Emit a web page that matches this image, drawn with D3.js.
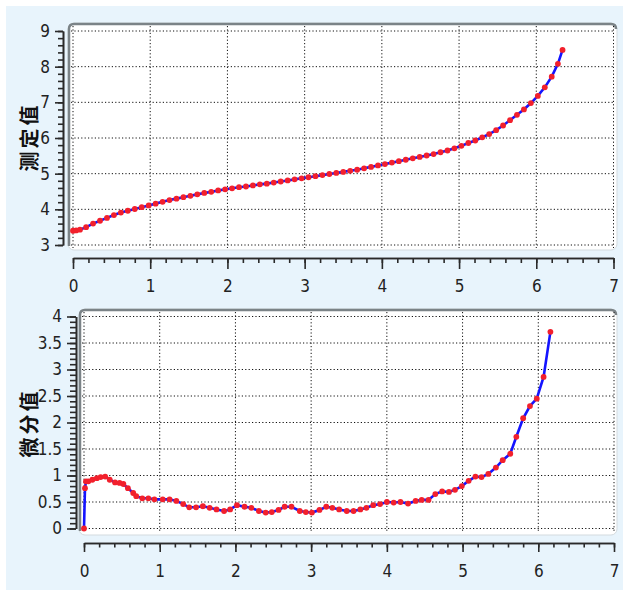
<!DOCTYPE html>
<html><head><meta charset="utf-8">
<script src="https://cdn.jsdelivr.net/npm/d3@7"></script>
<style>
html,body{margin:0;padding:0;background:#fff;}
svg{display:block;}
.tick text{font-family:"Liberation Sans Narrow","DejaVu Sans Condensed",sans-serif;font-size:17px;fill:#222;}
</style></head>
<body>
<svg id="c" width="623" height="593"></svg>
<script>
// ---- data ----
const topX = [0.00,0.04,0.09,0.17,0.26,0.35,0.44,0.53,0.62,0.71,0.80,0.89,0.98,1.07,1.16,1.25,1.34,1.43,1.52,1.61,1.70,1.79,1.88,1.97,2.06,2.15,2.24,2.33,2.42,2.51,2.60,2.69,2.78,2.87,2.96,3.05,3.14,3.23,3.32,3.41,3.50,3.59,3.68,3.77,3.86,3.95,4.04,4.13,4.22,4.31,4.40,4.49,4.58,4.67,4.76,4.85,4.94,5.03,5.12,5.21,5.30,5.39,5.48,5.57,5.66,5.75,5.84,5.93,6.02,6.11,6.20,6.28,6.34];
const topY = [3.40,3.41,3.43,3.50,3.60,3.68,3.76,3.84,3.91,3.96,4.01,4.06,4.11,4.16,4.21,4.26,4.30,4.34,4.38,4.42,4.46,4.49,4.53,4.56,4.59,4.62,4.64,4.67,4.70,4.72,4.75,4.78,4.81,4.84,4.87,4.90,4.93,4.96,4.99,5.02,5.05,5.08,5.11,5.15,5.19,5.23,5.27,5.31,5.35,5.39,5.43,5.47,5.51,5.55,5.60,5.65,5.71,5.78,5.86,5.93,6.02,6.11,6.22,6.35,6.50,6.65,6.80,6.98,7.18,7.42,7.72,8.08,8.47];
const botX = [0,0.013,0.026,0.057,0.11,0.17,0.22,0.28,0.34,0.41,0.47,0.52,0.58,0.65,0.69,0.77,0.85,0.93,1.04,1.13,1.22,1.31,1.39,1.48,1.57,1.66,1.75,1.85,1.93,2.02,2.12,2.21,2.31,2.40,2.48,2.57,2.65,2.74,2.85,2.93,3.01,3.11,3.20,3.28,3.37,3.47,3.56,3.65,3.73,3.82,3.91,4.00,4.09,4.18,4.28,4.38,4.46,4.55,4.64,4.73,4.82,4.90,4.99,5.08,5.17,5.25,5.34,5.44,5.53,5.63,5.71,5.80,5.89,5.98,6.07,6.16];
const botY = [0,0.76,0.89,0.89,0.92,0.95,0.97,0.98,0.92,0.87,0.86,0.84,0.76,0.67,0.61,0.57,0.57,0.55,0.55,0.55,0.52,0.46,0.40,0.40,0.42,0.39,0.36,0.33,0.36,0.44,0.41,0.39,0.33,0.30,0.31,0.35,0.41,0.41,0.33,0.31,0.30,0.35,0.41,0.39,0.36,0.33,0.33,0.36,0.39,0.44,0.46,0.50,0.49,0.50,0.47,0.52,0.54,0.54,0.65,0.70,0.69,0.73,0.80,0.90,0.98,0.97,1.03,1.15,1.29,1.41,1.73,2.08,2.31,2.45,2.86,3.71];
const xTicks = [0,1,2,3,4,5,6,7];
const topYTicks = [3,4,5,6,7,8,9];
const botYTicks = [0,0.5,1,1.5,2,2.5,3,3.5,4];
const topTitle = "测定值";
const botTitle = "微分值";

const svg = d3.select("#c");
svg.append("rect").attr("x",6).attr("y",6).attr("width",617).attr("height",584).attr("fill","#e8f4fc");

function minorRange(a,b,s){const r=[];const n=Math.round((b-a)/s);for(let i=0;i<=n;i++){r.push(+(a+i*s).toFixed(4));}return r;}

function chart(cfg){
  const g = svg.append("g");
  const x = d3.scaleLinear().domain([0,7]).range(cfg.xr);
  const y = d3.scaleLinear().domain(cfg.yd).range(cfg.yr);
  const p = cfg.panel;
  // panel
  g.append("rect").attr("x",p[0]).attr("y",p[1]).attr("width",p[2]-p[0]).attr("height",p[3]-p[1])
    .attr("rx",6).attr("fill","#fff").attr("stroke","#d3dade").attr("stroke-width",1);
  const r=6;
  g.append("path").attr("d",`M${p[0]+1},${p[3]-4} L${p[0]+1},${p[1]+r} Q${p[0]+1},${p[1]+1} ${p[0]+r},${p[1]+1} L${p[2]-r},${p[1]+1} Q${p[2]-1},${p[1]+1} ${p[2]-1},${p[1]+r}`)
    .attr("fill","none").attr("stroke","#7b8387").attr("stroke-width",2.5);
  // grid
  const grid = g.append("g").attr("stroke","#111").attr("stroke-width",1).attr("stroke-dasharray","1.2,2.2");
  xTicks.forEach(t=>grid.append("line").attr("x1",x(t)).attr("x2",x(t)).attr("y1",p[1]+3).attr("y2",p[3]-2));
  cfg.yTicks.forEach(t=>grid.append("line").attr("x1",p[0]+3).attr("x2",p[2]-3).attr("y1",y(t)).attr("y2",y(t)));
  // axes
  const ax = g.append("g").attr("transform",`translate(0,${cfg.xAxisY})`);
  ax.call(d3.axisBottom(x).tickValues(minorRange(0,7,0.2)).tickSize(cfg.xMinor).tickSizeOuter(0).tickFormat(""));
  const ax2 = g.append("g").attr("transform",`translate(0,${cfg.xAxisY})`);
  ax2.call(d3.axisBottom(x).tickValues(xTicks).tickSize(cfg.xMajor).tickSizeOuter(0).tickPadding(cfg.xPad).tickFormat(d3.format("d")));
  const ay = g.append("g").attr("transform",`translate(${cfg.yAxisX},0)`);
  ay.call(d3.axisLeft(y).tickValues(minorRange(cfg.yd[0],cfg.yd[1],cfg.yMinorStep)).tickSize(cfg.yMinor).tickSizeOuter(0).tickFormat(""));
  const ay2 = g.append("g").attr("transform",`translate(${cfg.yAxisX},0)`);
  ay2.call(d3.axisLeft(y).tickValues(cfg.yTicks).tickSize(cfg.yMajor).tickSizeOuter(0).tickPadding(5).tickFormat(d=>String(d)));
  g.selectAll(".domain, .tick line").attr("stroke","#2a2a2a").attr("stroke-width",1.6);
  // title
  g.append("text").attr("transform",`translate(${cfg.titlePos[0]},${cfg.titlePos[1]}) rotate(-90)`)
    .attr("text-anchor","middle").attr("dominant-baseline","central")
    .attr("font-family","'Noto Sans CJK SC',sans-serif").attr("font-weight","bold").attr("font-size",20)
    .attr("letter-spacing",3).attr("fill","#111").text(cfg.title);
  // data
  const pts = cfg.xs.map((v,i)=>[v,cfg.ys[i]]);
  g.append("path").datum(pts).attr("fill","none").attr("stroke","#1414ff").attr("stroke-width",2.6)
    .attr("d",d3.line().x(d=>x(d[0])).y(d=>y(d[1])));
  g.append("g").selectAll("circle").data(pts).join("circle")
    .attr("cx",d=>x(d[0])).attr("cy",d=>y(d[1])).attr("r",2.9).attr("fill","#f2202c");
}

chart({xr:[73,613.5], yd:[3,9], yr:[245,31], panel:[68,23,617,250], yTicks:topYTicks,
  xAxisY:258, xMinor:5, xMajor:11, xPad:11, yAxisX:63, yMinor:5, yMajor:8, yMinorStep:0.2,
  title:topTitle, titlePos:[28,137], xs:topX, ys:topY});
chart({xr:[84,614], yd:[0,4], yr:[528.5,316.5], panel:[79,309,617,535], yTicks:botYTicks,
  xAxisY:543, xMinor:4.5, xMajor:9, xPad:13, yAxisX:76, yMinor:6, yMajor:9, yMinorStep:0.1,
  title:botTitle, titlePos:[28,423], xs:botX, ys:botY});
</script>
</body></html>
